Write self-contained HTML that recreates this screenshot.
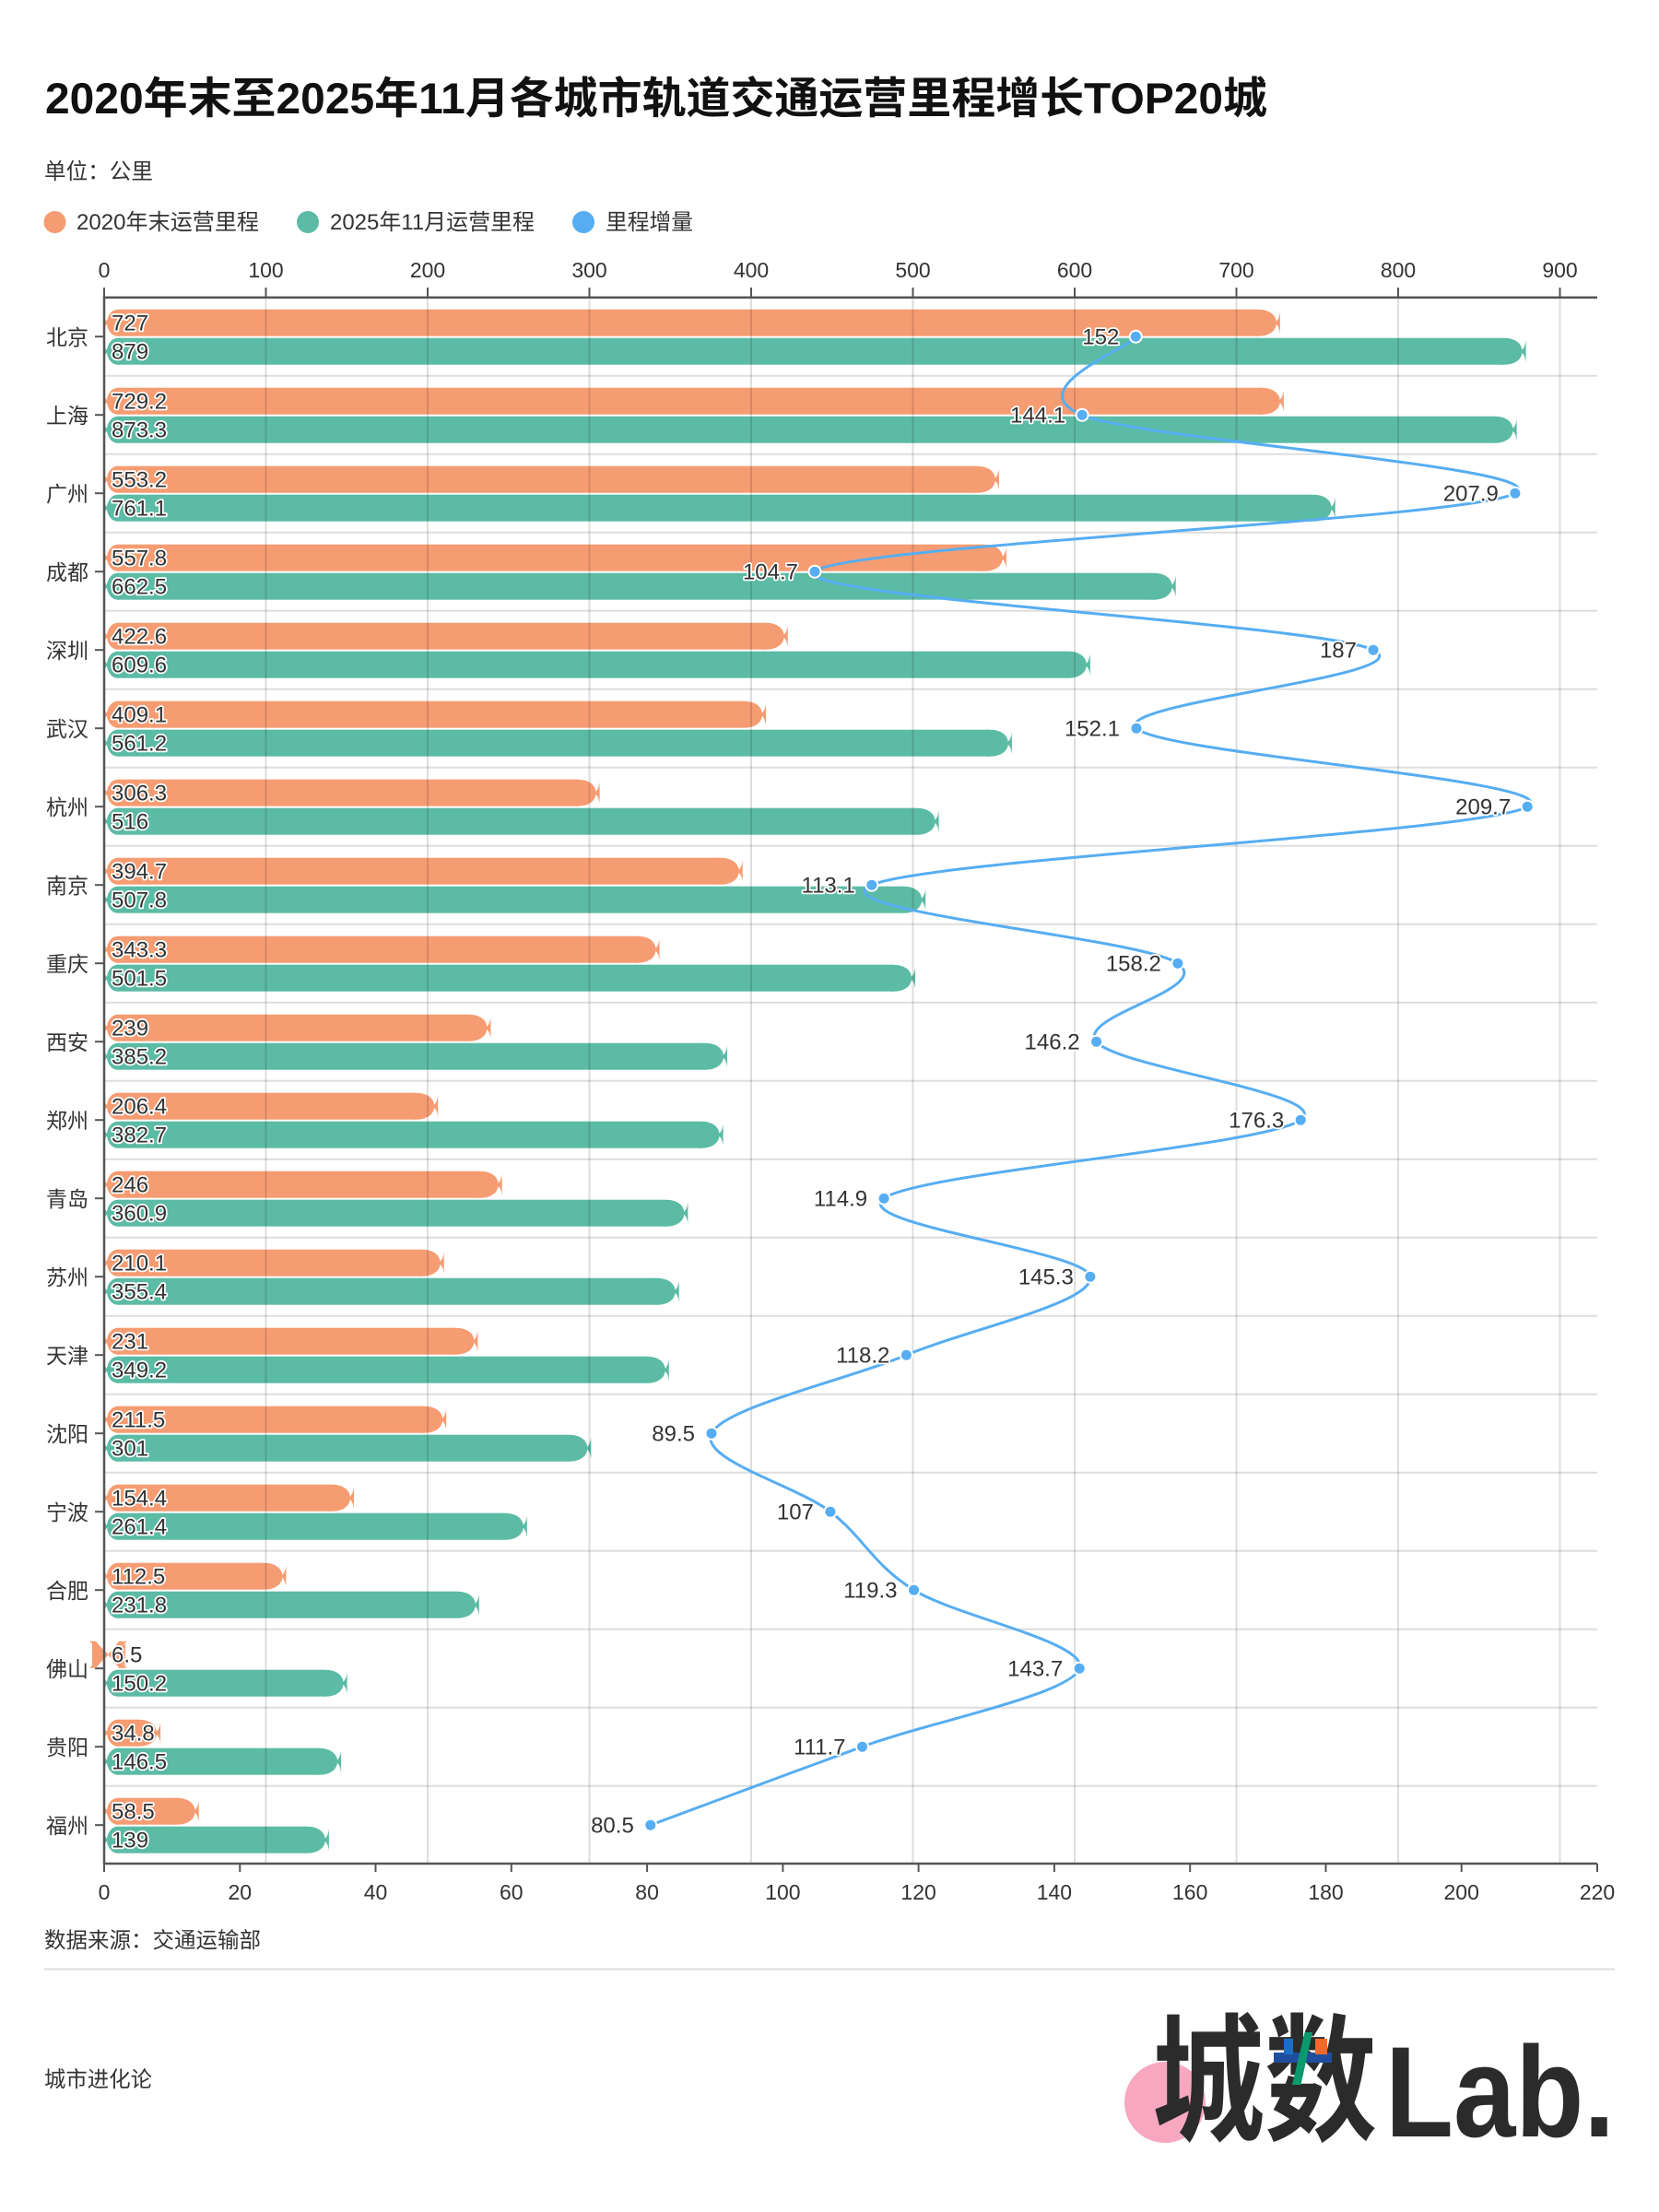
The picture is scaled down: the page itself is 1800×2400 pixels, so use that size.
<!DOCTYPE html>
<html><head><meta charset="utf-8"><style>
html,body{margin:0;padding:0;background:#fff;}
svg{display:block}
text{font-family:"Liberation Sans","Noto Sans CJK SC",sans-serif;fill:#333}
.cat{font-size:23px;text-anchor:end}
.tick{font-size:23px;text-anchor:middle}
.v{font-size:24px;fill:#333;stroke:#fff;stroke-width:3.5px;paint-order:stroke;stroke-linejoin:round}
.lv{font-size:24px;fill:#333;stroke:#fff;stroke-width:3.5px;paint-order:stroke;stroke-linejoin:round;text-anchor:end}
.ax{stroke:#555;stroke-width:2.5}
.tk{stroke:#555;stroke-width:2}
.or{fill:#F69C72}
.gr{fill:#5CBBA5}
.grid{stroke:rgba(0,0,0,0.13);stroke-width:2}
.sep{stroke:#dedede;stroke-width:2}
.dot{fill:#56ADF2;stroke:#fff;stroke-width:2}
</style></head><body>
<svg width="1800" height="2400" viewBox="0 0 1800 2400" xmlns="http://www.w3.org/2000/svg">
<defs>
<path id="lc" d="M129,-14.5 L128,-14.5 C120,-14.5 116,-6 116,0 C116,6 120,14.5 128,14.5 L129,14.5 Z M118,0 Q114,-2 113,-7 L113,7 Q114,2 118,0 Z"/>
<path id="rc" d="M-27,-14.5 L-24,-14.5 C-11,-14.5 -4,-8 -4,0 C-4,8 -11,14.5 -24,14.5 L-27,14.5 Z M-6,0 Q-1,-3 0,-12 L0,12 Q-1,3 -6,0 Z"/>
</defs>
<rect x="0" y="0" width="1800" height="2400" fill="#fff"/>

<!-- Title -->
<text x="49" y="123" font-size="47" font-weight="bold" style="fill:#111" textLength="1326" lengthAdjust="spacingAndGlyphs">2020年末至2025年11月各城市轨道交通运营里程增长TOP20城</text>
<text x="48" y="194" font-size="24" textLength="118" lengthAdjust="spacingAndGlyphs">单位：公里</text>

<!-- Legend -->
<circle cx="59.5" cy="241" r="12" fill="#F69C72"/>
<text x="83" y="249" font-size="24" textLength="198" lengthAdjust="spacingAndGlyphs">2020年末运营里程</text>
<circle cx="334" cy="241" r="12" fill="#5CBBA5"/>
<text x="358" y="249" font-size="24" textLength="222" lengthAdjust="spacingAndGlyphs">2025年11月运营里程</text>
<circle cx="633" cy="241" r="12" fill="#56ADF2"/>
<text x="657" y="249" font-size="24" textLength="95" lengthAdjust="spacingAndGlyphs">里程增量</text>

<!-- Top tick labels -->
<g>
<text class="tick" x="113" y="301">0</text>
<text class="tick" x="288.5" y="301">100</text>
<text class="tick" x="464" y="301">200</text>
<text class="tick" x="639.5" y="301">300</text>
<text class="tick" x="815" y="301">400</text>
<text class="tick" x="990.5" y="301">500</text>
<text class="tick" x="1166" y="301">600</text>
<text class="tick" x="1341.5" y="301">700</text>
<text class="tick" x="1517" y="301">800</text>
<text class="tick" x="1692.5" y="301">900</text>
</g>
<g class="tk">
<line x1="113" y1="312" x2="113" y2="322.7"/><line x1="288.5" y1="312" x2="288.5" y2="322.7"/><line x1="464" y1="312" x2="464" y2="322.7"/><line x1="639.5" y1="312" x2="639.5" y2="322.7"/><line x1="815" y1="312" x2="815" y2="322.7"/><line x1="990.5" y1="312" x2="990.5" y2="322.7"/><line x1="1166" y1="312" x2="1166" y2="322.7"/><line x1="1341.5" y1="312" x2="1341.5" y2="322.7"/><line x1="1517" y1="312" x2="1517" y2="322.7"/><line x1="1692.5" y1="312" x2="1692.5" y2="322.7"/>
</g>

<!-- Row separators -->
<g class="sep">
<line x1="113" x2="1733" y1="407.7" y2="407.7"/><line x1="113" x2="1733" y1="492.7" y2="492.7"/><line x1="113" x2="1733" y1="577.7" y2="577.7"/><line x1="113" x2="1733" y1="662.7" y2="662.7"/><line x1="113" x2="1733" y1="747.7" y2="747.7"/><line x1="113" x2="1733" y1="832.7" y2="832.7"/><line x1="113" x2="1733" y1="917.7" y2="917.7"/><line x1="113" x2="1733" y1="1002.7" y2="1002.7"/><line x1="113" x2="1733" y1="1087.7" y2="1087.7"/><line x1="113" x2="1733" y1="1172.7" y2="1172.7"/><line x1="113" x2="1733" y1="1257.7" y2="1257.7"/><line x1="113" x2="1733" y1="1342.7" y2="1342.7"/><line x1="113" x2="1733" y1="1427.7" y2="1427.7"/><line x1="113" x2="1733" y1="1512.7" y2="1512.7"/><line x1="113" x2="1733" y1="1597.7" y2="1597.7"/><line x1="113" x2="1733" y1="1682.7" y2="1682.7"/><line x1="113" x2="1733" y1="1767.7" y2="1767.7"/><line x1="113" x2="1733" y1="1852.7" y2="1852.7"/><line x1="113" x2="1733" y1="1937.7" y2="1937.7"/>
</g>

<!-- Rows: bars, category labels, ticks -->
<g transform="translate(0,365.2)"><text class="cat" x="96" y="9">北京</text><line class="tk" x1="103" y1="0" x2="113" y2="0"/>
<rect class="or" x="128" y="-29.5" width="1235.9" height="29"/><use class="or" href="#lc" y="-15"/><use class="or" href="#rc" x="1388.9" y="-15"/>
<rect class="gr" x="128" y="1.5" width="1502.6" height="29"/><use class="gr" href="#lc" y="16"/><use class="gr" href="#rc" x="1655.6" y="16"/></g>

<g transform="translate(0,450.2)"><text class="cat" x="96" y="9">上海</text><line class="tk" x1="103" y1="0" x2="113" y2="0"/>
<rect class="or" x="128" y="-29.5" width="1239.8" height="29"/><use class="or" href="#lc" y="-15"/><use class="or" href="#rc" x="1392.8" y="-15"/>
<rect class="gr" x="128" y="1.5" width="1492.6" height="29"/><use class="gr" href="#lc" y="16"/><use class="gr" href="#rc" x="1645.6" y="16"/></g>

<g transform="translate(0,535.2)"><text class="cat" x="96" y="9">广州</text><line class="tk" x1="103" y1="0" x2="113" y2="0"/>
<rect class="or" x="128" y="-29.5" width="930.9" height="29"/><use class="or" href="#lc" y="-15"/><use class="or" href="#rc" x="1083.9" y="-15"/>
<rect class="gr" x="128" y="1.5" width="1295.7" height="29"/><use class="gr" href="#lc" y="16"/><use class="gr" href="#rc" x="1448.7" y="16"/></g>

<g transform="translate(0,620.2)"><text class="cat" x="96" y="9">成都</text><line class="tk" x1="103" y1="0" x2="113" y2="0"/>
<rect class="or" x="128" y="-29.5" width="938.9" height="29"/><use class="or" href="#lc" y="-15"/><use class="or" href="#rc" x="1091.9" y="-15"/>
<rect class="gr" x="128" y="1.5" width="1122.7" height="29"/><use class="gr" href="#lc" y="16"/><use class="gr" href="#rc" x="1275.7" y="16"/></g>

<g transform="translate(0,705.2)"><text class="cat" x="96" y="9">深圳</text><line class="tk" x1="103" y1="0" x2="113" y2="0"/>
<rect class="or" x="128" y="-29.5" width="701.7" height="29"/><use class="or" href="#lc" y="-15"/><use class="or" href="#rc" x="854.7" y="-15"/>
<rect class="gr" x="128" y="1.5" width="1029.9" height="29"/><use class="gr" href="#lc" y="16"/><use class="gr" href="#rc" x="1182.9" y="16"/></g>

<g transform="translate(0,790.2)"><text class="cat" x="96" y="9">武汉</text><line class="tk" x1="103" y1="0" x2="113" y2="0"/>
<rect class="or" x="128" y="-29.5" width="678" height="29"/><use class="or" href="#lc" y="-15"/><use class="or" href="#rc" x="831" y="-15"/>
<rect class="gr" x="128" y="1.5" width="944.9" height="29"/><use class="gr" href="#lc" y="16"/><use class="gr" href="#rc" x="1097.9" y="16"/></g>

<g transform="translate(0,875.2)"><text class="cat" x="96" y="9">杭州</text><line class="tk" x1="103" y1="0" x2="113" y2="0"/>
<rect class="or" x="128" y="-29.5" width="497.6" height="29"/><use class="or" href="#lc" y="-15"/><use class="or" href="#rc" x="650.6" y="-15"/>
<rect class="gr" x="128" y="1.5" width="865.6" height="29"/><use class="gr" href="#lc" y="16"/><use class="gr" href="#rc" x="1018.6" y="16"/></g>

<g transform="translate(0,960.2)"><text class="cat" x="96" y="9">南京</text><line class="tk" x1="103" y1="0" x2="113" y2="0"/>
<rect class="or" x="128" y="-29.5" width="652.7" height="29"/><use class="or" href="#lc" y="-15"/><use class="or" href="#rc" x="805.7" y="-15"/>
<rect class="gr" x="128" y="1.5" width="851.2" height="29"/><use class="gr" href="#lc" y="16"/><use class="gr" href="#rc" x="1004.2" y="16"/></g>

<g transform="translate(0,1045.2)"><text class="cat" x="96" y="9">重庆</text><line class="tk" x1="103" y1="0" x2="113" y2="0"/>
<rect class="or" x="128" y="-29.5" width="562.5" height="29"/><use class="or" href="#lc" y="-15"/><use class="or" href="#rc" x="715.5" y="-15"/>
<rect class="gr" x="128" y="1.5" width="840.1" height="29"/><use class="gr" href="#lc" y="16"/><use class="gr" href="#rc" x="993.1" y="16"/></g>

<g transform="translate(0,1130.2)"><text class="cat" x="96" y="9">西安</text><line class="tk" x1="103" y1="0" x2="113" y2="0"/>
<rect class="or" x="128" y="-29.5" width="379.4" height="29"/><use class="or" href="#lc" y="-15"/><use class="or" href="#rc" x="532.4" y="-15"/>
<rect class="gr" x="128" y="1.5" width="636" height="29"/><use class="gr" href="#lc" y="16"/><use class="gr" href="#rc" x="789" y="16"/></g>

<g transform="translate(0,1215.2)"><text class="cat" x="96" y="9">郑州</text><line class="tk" x1="103" y1="0" x2="113" y2="0"/>
<rect class="or" x="128" y="-29.5" width="322.2" height="29"/><use class="or" href="#lc" y="-15"/><use class="or" href="#rc" x="475.2" y="-15"/>
<rect class="gr" x="128" y="1.5" width="631.6" height="29"/><use class="gr" href="#lc" y="16"/><use class="gr" href="#rc" x="784.6" y="16"/></g>

<g transform="translate(0,1300.2)"><text class="cat" x="96" y="9">青岛</text><line class="tk" x1="103" y1="0" x2="113" y2="0"/>
<rect class="or" x="128" y="-29.5" width="391.7" height="29"/><use class="or" href="#lc" y="-15"/><use class="or" href="#rc" x="544.7" y="-15"/>
<rect class="gr" x="128" y="1.5" width="593.4" height="29"/><use class="gr" href="#lc" y="16"/><use class="gr" href="#rc" x="746.4" y="16"/></g>

<g transform="translate(0,1385.2)"><text class="cat" x="96" y="9">苏州</text><line class="tk" x1="103" y1="0" x2="113" y2="0"/>
<rect class="or" x="128" y="-29.5" width="328.7" height="29"/><use class="or" href="#lc" y="-15"/><use class="or" href="#rc" x="481.7" y="-15"/>
<rect class="gr" x="128" y="1.5" width="583.7" height="29"/><use class="gr" href="#lc" y="16"/><use class="gr" href="#rc" x="736.7" y="16"/></g>

<g transform="translate(0,1470.2)"><text class="cat" x="96" y="9">天津</text><line class="tk" x1="103" y1="0" x2="113" y2="0"/>
<rect class="or" x="128" y="-29.5" width="365.4" height="29"/><use class="or" href="#lc" y="-15"/><use class="or" href="#rc" x="518.4" y="-15"/>
<rect class="gr" x="128" y="1.5" width="572.8" height="29"/><use class="gr" href="#lc" y="16"/><use class="gr" href="#rc" x="725.8" y="16"/></g>

<g transform="translate(0,1555.2)"><text class="cat" x="96" y="9">沈阳</text><line class="tk" x1="103" y1="0" x2="113" y2="0"/>
<rect class="or" x="128" y="-29.5" width="331.2" height="29"/><use class="or" href="#lc" y="-15"/><use class="or" href="#rc" x="484.2" y="-15"/>
<rect class="gr" x="128" y="1.5" width="488.3" height="29"/><use class="gr" href="#lc" y="16"/><use class="gr" href="#rc" x="641.3" y="16"/></g>

<g transform="translate(0,1640.2)"><text class="cat" x="96" y="9">宁波</text><line class="tk" x1="103" y1="0" x2="113" y2="0"/>
<rect class="or" x="128" y="-29.5" width="231" height="29"/><use class="or" href="#lc" y="-15"/><use class="or" href="#rc" x="384" y="-15"/>
<rect class="gr" x="128" y="1.5" width="418.8" height="29"/><use class="gr" href="#lc" y="16"/><use class="gr" href="#rc" x="571.8" y="16"/></g>

<g transform="translate(0,1725.2)"><text class="cat" x="96" y="9">合肥</text><line class="tk" x1="103" y1="0" x2="113" y2="0"/>
<rect class="or" x="128" y="-29.5" width="157.4" height="29"/><use class="or" href="#lc" y="-15"/><use class="or" href="#rc" x="310.4" y="-15"/>
<rect class="gr" x="128" y="1.5" width="366.8" height="29"/><use class="gr" href="#lc" y="16"/><use class="gr" href="#rc" x="519.8" y="16"/></g>

<g transform="translate(0,1810.2)"><text class="cat" x="96" y="9">佛山</text><line class="tk" x1="103" y1="0" x2="113" y2="0"/>
<path class="or" d="M97,-29.5 L104,-29.5 Q112,-20 118,-15 Q112,-10 104,-0.5 L97,-0.5 Q106,-8 111,-15 Q106,-22 97,-29.5 Z M138,-29.5 L129,-29.5 Q122,-20 117,-15 Q122,-10 129,-0.5 L138,-0.5 Q128,-8 124,-15 Q128,-22 138,-29.5 Z"/>
<path class="or" d="M100,-27 L117,-15 L100,-3 Z M136,-27 L118,-15 L136,-3 Z"/>
<rect class="gr" x="128" y="1.5" width="223.6" height="29"/><use class="gr" href="#lc" y="16"/><use class="gr" href="#rc" x="376.6" y="16"/></g>

<g transform="translate(0,1895.2)"><text class="cat" x="96" y="9">贵阳</text><line class="tk" x1="103" y1="0" x2="113" y2="0"/>
<rect class="or" x="128" y="-29.5" width="21.1" height="29"/><use class="or" href="#lc" y="-15"/><use class="or" href="#rc" x="174.1" y="-15"/>
<rect class="gr" x="128" y="1.5" width="217.1" height="29"/><use class="gr" href="#lc" y="16"/><use class="gr" href="#rc" x="370.1" y="16"/></g>

<g transform="translate(0,1980.2)"><text class="cat" x="96" y="9">福州</text><line class="tk" x1="103" y1="0" x2="113" y2="0"/>
<rect class="or" x="128" y="-29.5" width="62.7" height="29"/><use class="or" href="#lc" y="-15"/><use class="or" href="#rc" x="215.7" y="-15"/>
<rect class="gr" x="128" y="1.5" width="203.9" height="29"/><use class="gr" href="#lc" y="16"/><use class="gr" href="#rc" x="356.9" y="16"/></g>

<!-- Vertical gridlines (over bars, translucent) -->
<g class="grid">
<line x1="288.5" y1="323" x2="288.5" y2="2021"/><line x1="464" y1="323" x2="464" y2="2021"/><line x1="639.5" y1="323" x2="639.5" y2="2021"/><line x1="815" y1="323" x2="815" y2="2021"/><line x1="990.5" y1="323" x2="990.5" y2="2021"/><line x1="1166" y1="323" x2="1166" y2="2021"/><line x1="1341.5" y1="323" x2="1341.5" y2="2021"/><line x1="1517" y1="323" x2="1517" y2="2021"/><line x1="1692.5" y1="323" x2="1692.5" y2="2021"/>
</g>

<!-- Axes -->
<line class="ax" x1="113" y1="322.7" x2="1733" y2="322.7"/>
<line class="ax" x1="113" y1="2022" x2="1733" y2="2022"/>
<line class="ax" x1="113" y1="321.5" x2="113" y2="2023"/>

<!-- Bottom ticks -->
<g class="tk">
<line x1="113" y1="2022" x2="113" y2="2031"/><line x1="260.3" y1="2022" x2="260.3" y2="2031"/><line x1="407.5" y1="2022" x2="407.5" y2="2031"/><line x1="554.8" y1="2022" x2="554.8" y2="2031"/><line x1="702.1" y1="2022" x2="702.1" y2="2031"/><line x1="849.4" y1="2022" x2="849.4" y2="2031"/><line x1="996.6" y1="2022" x2="996.6" y2="2031"/><line x1="1143.9" y1="2022" x2="1143.9" y2="2031"/><line x1="1291.2" y1="2022" x2="1291.2" y2="2031"/><line x1="1438.5" y1="2022" x2="1438.5" y2="2031"/><line x1="1585.7" y1="2022" x2="1585.7" y2="2031"/><line x1="1733" y1="2022" x2="1733" y2="2031"/>
</g>
<g>
<text class="tick" x="113" y="2061">0</text>
<text class="tick" x="260.3" y="2061">20</text>
<text class="tick" x="407.5" y="2061">40</text>
<text class="tick" x="554.8" y="2061">60</text>
<text class="tick" x="702.1" y="2061">80</text>
<text class="tick" x="849.4" y="2061">100</text>
<text class="tick" x="996.6" y="2061">120</text>
<text class="tick" x="1143.9" y="2061">140</text>
<text class="tick" x="1291.2" y="2061">160</text>
<text class="tick" x="1438.5" y="2061">180</text>
<text class="tick" x="1585.7" y="2061">200</text>
<text class="tick" x="1733" y="2061">220</text>
</g>

<!-- Bar value labels -->
<g>
<g transform="translate(0,365.2)"><text class="v" x="121" y="-6.5">727</text><text class="v" x="121" y="24.5">879</text></g>
<g transform="translate(0,450.2)"><text class="v" x="121" y="-6.5">729.2</text><text class="v" x="121" y="24.5">873.3</text></g>
<g transform="translate(0,535.2)"><text class="v" x="121" y="-6.5">553.2</text><text class="v" x="121" y="24.5">761.1</text></g>
<g transform="translate(0,620.2)"><text class="v" x="121" y="-6.5">557.8</text><text class="v" x="121" y="24.5">662.5</text></g>
<g transform="translate(0,705.2)"><text class="v" x="121" y="-6.5">422.6</text><text class="v" x="121" y="24.5">609.6</text></g>
<g transform="translate(0,790.2)"><text class="v" x="121" y="-6.5">409.1</text><text class="v" x="121" y="24.5">561.2</text></g>
<g transform="translate(0,875.2)"><text class="v" x="121" y="-6.5">306.3</text><text class="v" x="121" y="24.5">516</text></g>
<g transform="translate(0,960.2)"><text class="v" x="121" y="-6.5">394.7</text><text class="v" x="121" y="24.5">507.8</text></g>
<g transform="translate(0,1045.2)"><text class="v" x="121" y="-6.5">343.3</text><text class="v" x="121" y="24.5">501.5</text></g>
<g transform="translate(0,1130.2)"><text class="v" x="121" y="-6.5">239</text><text class="v" x="121" y="24.5">385.2</text></g>
<g transform="translate(0,1215.2)"><text class="v" x="121" y="-6.5">206.4</text><text class="v" x="121" y="24.5">382.7</text></g>
<g transform="translate(0,1300.2)"><text class="v" x="121" y="-6.5">246</text><text class="v" x="121" y="24.5">360.9</text></g>
<g transform="translate(0,1385.2)"><text class="v" x="121" y="-6.5">210.1</text><text class="v" x="121" y="24.5">355.4</text></g>
<g transform="translate(0,1470.2)"><text class="v" x="121" y="-6.5">231</text><text class="v" x="121" y="24.5">349.2</text></g>
<g transform="translate(0,1555.2)"><text class="v" x="121" y="-6.5">211.5</text><text class="v" x="121" y="24.5">301</text></g>
<g transform="translate(0,1640.2)"><text class="v" x="121" y="-6.5">154.4</text><text class="v" x="121" y="24.5">261.4</text></g>
<g transform="translate(0,1725.2)"><text class="v" x="121" y="-6.5">112.5</text><text class="v" x="121" y="24.5">231.8</text></g>
<g transform="translate(0,1810.2)"><text class="v" x="121" y="-6.5">6.5</text><text class="v" x="121" y="24.5">150.2</text></g>
<g transform="translate(0,1895.2)"><text class="v" x="121" y="-6.5">34.8</text><text class="v" x="121" y="24.5">146.5</text></g>
<g transform="translate(0,1980.2)"><text class="v" x="121" y="-6.5">58.5</text><text class="v" x="121" y="24.5">139</text></g>
</g>

<!-- Increment line -->
<path fill="none" stroke="#56ADF2" stroke-width="3" stroke-linejoin="round" stroke-linecap="round" d="M1232.3,365.2 C1222.6,379.4 1105.5,421.9 1174.1,450.2 C1242.7,478.5 1692.25,506.9 1643.9,535.2 C1595.55,563.5 909.65,591.9 884,620.2 C858.35,648.5 1431.83,676.9 1490,705.2 C1548.17,733.5 1205.13,761.9 1233,790.2 C1260.87,818.5 1705.07,846.9 1657.2,875.2 C1609.33,903.5 1009.02,931.9 945.8,960.2 C882.58,988.5 1237.27,1016.9 1277.9,1045.2 C1318.53,1073.5 1167.38,1101.9 1189.6,1130.2 C1211.82,1158.5 1449.62,1186.9 1411.2,1215.2 C1372.78,1243.5 997.15,1271.9 959.1,1300.2 C921.05,1328.5 1178.85,1356.9 1182.9,1385.2 C1186.95,1413.5 1051.88,1441.9 983.4,1470.2 C914.92,1498.5 785.75,1526.9 772,1555.2 C758.25,1583.5 864.32,1611.9 900.9,1640.2 C937.48,1668.5 946.45,1696.9 991.5,1725.2 C1036.55,1753.5 1180.53,1781.9 1171.2,1810.2 C1161.87,1838.5 1013.07,1866.9 935.5,1895.2 C857.93,1923.5 744.08,1966 705.8,1980.2"/>
<g>
<circle class="dot" cx="1232.3" cy="365.2" r="6.5"/><circle class="dot" cx="1174.1" cy="450.2" r="6.5"/><circle class="dot" cx="1643.9" cy="535.2" r="6.5"/><circle class="dot" cx="884" cy="620.2" r="6.5"/><circle class="dot" cx="1490" cy="705.2" r="6.5"/><circle class="dot" cx="1233" cy="790.2" r="6.5"/><circle class="dot" cx="1657.2" cy="875.2" r="6.5"/><circle class="dot" cx="945.8" cy="960.2" r="6.5"/><circle class="dot" cx="1277.9" cy="1045.2" r="6.5"/><circle class="dot" cx="1189.6" cy="1130.2" r="6.5"/><circle class="dot" cx="1411.2" cy="1215.2" r="6.5"/><circle class="dot" cx="959.1" cy="1300.2" r="6.5"/><circle class="dot" cx="1182.9" cy="1385.2" r="6.5"/><circle class="dot" cx="983.4" cy="1470.2" r="6.5"/><circle class="dot" cx="772" cy="1555.2" r="6.5"/><circle class="dot" cx="900.9" cy="1640.2" r="6.5"/><circle class="dot" cx="991.5" cy="1725.2" r="6.5"/><circle class="dot" cx="1171.2" cy="1810.2" r="6.5"/><circle class="dot" cx="935.5" cy="1895.2" r="6.5"/><circle class="dot" cx="705.8" cy="1980.2" r="6.5"/>
</g>
<g>
<text class="lv" x="1214.3" y="373.7">152</text>
<text class="lv" x="1156.1" y="458.7">144.1</text>
<text class="lv" x="1625.9" y="543.7">207.9</text>
<text class="lv" x="866" y="628.7">104.7</text>
<text class="lv" x="1472" y="713.7">187</text>
<text class="lv" x="1215" y="798.7">152.1</text>
<text class="lv" x="1639.2" y="883.7">209.7</text>
<text class="lv" x="927.8" y="968.7">113.1</text>
<text class="lv" x="1259.9" y="1053.7">158.2</text>
<text class="lv" x="1171.6" y="1138.7">146.2</text>
<text class="lv" x="1393.2" y="1223.7">176.3</text>
<text class="lv" x="941.1" y="1308.7">114.9</text>
<text class="lv" x="1164.9" y="1393.7">145.3</text>
<text class="lv" x="965.4" y="1478.7">118.2</text>
<text class="lv" x="754" y="1563.7">89.5</text>
<text class="lv" x="882.9" y="1648.7">107</text>
<text class="lv" x="973.5" y="1733.7">119.3</text>
<text class="lv" x="1153.2" y="1818.7">143.7</text>
<text class="lv" x="917.5" y="1903.7">111.7</text>
<text class="lv" x="687.8" y="1988.7">80.5</text>
</g>

<!-- Footer -->
<text x="48" y="2113" font-size="23.5" textLength="235" lengthAdjust="spacingAndGlyphs">数据来源：交通运输部</text>
<line x1="48" y1="2136.5" x2="1752" y2="2136.5" stroke="#dddddd" stroke-width="2"/>
<text x="48" y="2264" font-size="23.5" textLength="117" lengthAdjust="spacingAndGlyphs">城市进化论</text>

<!-- Logo -->
<circle cx="1264" cy="2281" r="44" fill="#F7A8C0"/>
<text x="1250" y="2311" font-size="150" font-weight="bold" style="fill:#2b2b2b" textLength="244" lengthAdjust="spacingAndGlyphs">城数</text>
<rect x="1382" y="2227" width="63" height="11" fill="#1F4E9E"/>
<rect x="1393" y="2212" width="10" height="17" fill="#1A70C4"/>
<rect x="1427" y="2212" width="13" height="17" fill="#F26A2A"/>
<polygon points="1415.6,2205 1424,2205 1411.4,2262 1402,2262" fill="#0A9A6E"/>
<text x="1503" y="2318" font-size="140" font-weight="bold" style="fill:#2b2b2b" textLength="249" lengthAdjust="spacingAndGlyphs">Lab.</text>
</svg>
</body></html>
